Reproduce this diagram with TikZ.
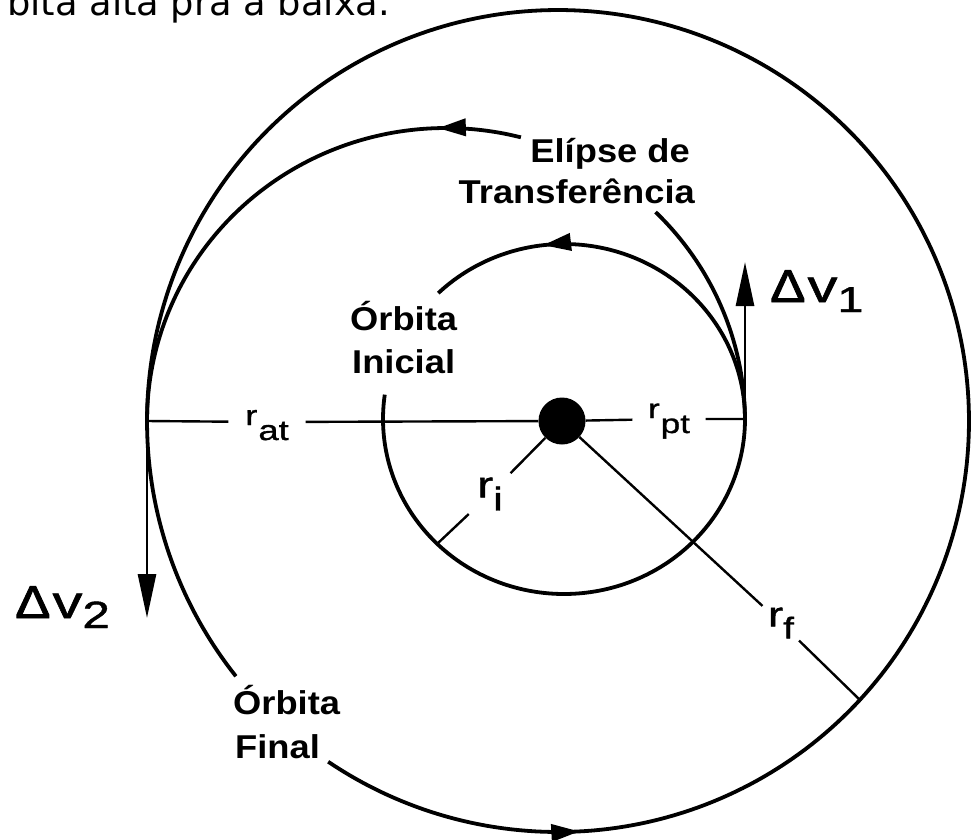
\documentclass[tikz,border=0pt]{standalone}
\usepackage{fontspec}
\setmainfont{Liberation Sans}
\newfontfamily\lblfont{Liberation Sans}[FakeStretch=1.1]
\newfontfamily\rfont{Liberation Sans}[FakeStretch=1.3,FakeBold=1.2]
\newfontfamily\deltafont{Liberation Sans}[FakeStretch=1.15,FakeBold=2]
\newfontfamily\topfont{DejaVu Sans}
\usetikzlibrary{arrows.meta,decorations.markings}
\begin{document}
\begin{tikzpicture}[x=1pt,y=-1pt,
  orbit/.style={line width=3.8pt},
  rline/.style={line width=2.4pt},
  arrowmark/.style={postaction={decorate},decoration={markings,mark=at position #1 with {\arrow{Triangle[length=28pt,width=17pt]}}}},
  bigtxt/.style={font=\lblfont\bfseries\fontsize{33}{40}\selectfont,inner sep=0pt},
  rlab/.style={circle,inner sep=0pt},
  dvarrow/.style={line width=2.8pt,-{Triangle[length=44pt,width=18pt]}},
  dvtxt/.style={font=\rfont\fontsize{46}{46}\selectfont,inner sep=0pt,anchor=base west}
]
\useasboundingbox (0,0) rectangle (972,839);
\clip (0,0) rectangle (972,839);

% clipped title text at top
\node[anchor=base west,inner sep=0pt,font=\topfont\fontsize{36.8}{40}\selectfont] (title) at (7,15) {bita alta pra a baixa.};

% key points
\coordinate (A) at (147,421);
\coordinate (P) at (745,419);
\coordinate (Ri) at (437,544);
\coordinate (F) at (861,701);
\coordinate (dv1tip) at (745,262);
\coordinate (dv2tip) at (147,618);

% central body
\node[circle,fill=black,minimum size=47pt,inner sep=0pt] (O) at (562,421) {};

% outer (final) orbit
\draw[orbit,arrowmark=0.108] plot[domain=236:578.4,samples=300,variable=\t] ({558+411*cos(\t)},{421-411*sin(\t)});
% inner (initial) orbit
\draw[orbit,arrowmark=0.883] plot[domain=172:494,samples=240,variable=\t] ({564+181*cos(\t)},{419-175*sin(\t)});
% transfer ellipse
\draw[orbit] plot[domain=0:45.5,samples=60,variable=\t] ({446+299*cos(\t)},{421-293*sin(\t)});
\draw[orbit,arrowmark=0.155] plot[domain=75.5:180,samples=120,variable=\t] ({446+299*cos(\t)},{421-293*sin(\t)});

% radius labels
\node[rlab,minimum size=77pt,text height=8pt,text depth=2pt,font=\rfont\fontsize{28}{28}\selectfont] (rat) at (267,422) {r\kern1pt\raisebox{-15pt}{at}};
\node[rlab,minimum size=73pt,text height=5pt,text depth=7pt,font=\rfont\fontsize{27}{27}\selectfont] (rpt) at (669,419) {r\kern1pt\raisebox{-15pt}{pt}};
\node[rlab,minimum size=58pt,font=\lblfont\fontsize{37}{37}\selectfont] (ri) at (490,494) {\rfont r\raisebox{-13pt}{\fontsize{33}{33}\selectfont i}};
\node[rlab,minimum size=50pt,font=\lblfont\fontsize{35}{35}\selectfont] (rf) at (781,623) {\rfont r\raisebox{-12pt}{\fontsize{30}{30}\selectfont f}};

% radius lines
\draw[rline] (A) -- (rat) -- (O) -- (rpt) -- (P);
\draw[rline] (O) -- (ri) -- (Ri);
\draw[rline] (O) -- (rf) -- (F);

% delta-v arrows
\draw[dvarrow] (P) -- (dv1tip);
\draw[dvarrow] (A) -- (dv2tip);
\node[dvtxt] (dv1) at (770,302) {{\deltafont Δ}\kern2pt v\raisebox{-10pt}{\fontsize{36}{36}\selectfont 1}};
\node[dvtxt] (dv2) at (15,618) {{\deltafont Δ}\kern2pt v\raisebox{-10pt}{\fontsize{38}{38}\selectfont 2}};

% orbit labels
\node[bigtxt,anchor=base east] (ell1) at (690,162) {Elípse de};
\node[bigtxt,anchor=base east] (ell2) at (695,203) {Transferência};
\node[bigtxt,anchor=base west] (oi1) at (350,330) {Órbita};
\node[bigtxt,anchor=base west] (oi2) at (352,373) {Inicial};
\node[bigtxt,anchor=base west] (of1) at (233,714) {Órbita};
\node[bigtxt,anchor=base west] (of2) at (235,758) {Final};
\end{tikzpicture}
\end{document}
